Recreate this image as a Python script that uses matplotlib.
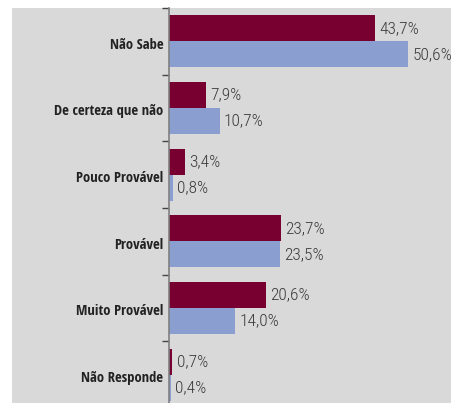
import matplotlib
matplotlib.use("Agg")
import matplotlib.pyplot as plt
from matplotlib.patches import Rectangle
import numpy as np

categories = ["Não Sabe", "De certeza que não", "Pouco Provável",
              "Provável", "Muito Provável", "Não Responde"]
serie_a = [43.7, 7.9, 3.4, 23.7, 20.6, 0.7]   # bordeaux
serie_b = [50.6, 10.7, 0.8, 23.5, 14.0, 0.4]  # azul

W, H = 451, 403
fig = plt.figure(figsize=(W / 100, H / 100), dpi=100)
fig.patch.set_facecolor("white")
cond_bold = ["Open Sans Condensed", "Roboto Condensed", "DejaVu Sans"]
cond_light = ["Roboto Condensed", "DejaVu Sans"]

# fundo cinzento atrás do gráfico
fig.patches.append(Rectangle((12 / W, 0), 1 - 12 / W, (H - 8) / H,
                             transform=fig.transFigure, facecolor="#d9d9d9",
                             edgecolor="none", zorder=-10))

ax = fig.add_axes([169 / W, -5 / H, 282 / W, 400 / H])
ax.set_facecolor("none")

y = np.arange(len(categories))
h = 0.39
ax.barh(y - h / 2, serie_a, height=h, color="#780030")
ax.barh(y + h / 2, serie_b, height=h, color="#8a9ed0")

for yi, a, b in zip(y, serie_a, serie_b):
    ax.text(a + 0.9, yi - h / 2, f"{a:.1f}%".replace(".", ","),
            va="center", ha="left", fontsize=12.5, fontweight="light",
            color="#3a3a3a", family=cond_light)
    ax.text(b + 0.9, yi + h / 2, f"{b:.1f}%".replace(".", ","),
            va="center", ha="left", fontsize=12.5, fontweight="light",
            color="#3a3a3a", family=cond_light)
    ax.text(-1.2, yi + 0.05, categories[yi], va="center", ha="right",
            fontsize=10.5, fontweight="bold", color="#222222",
            family=cond_bold)

ax.set_xlim(0, 59.7)
ax.set_ylim(len(categories) - 0.5, -0.5)
ax.set_xticks([])
ax.set_yticks(np.arange(len(categories) + 1) - 0.5)
ax.set_yticklabels([])
ax.tick_params(axis="y", length=5, width=1, color="#444444", direction="out")
for s in ["top", "right", "bottom"]:
    ax.spines[s].set_visible(False)
ax.spines["left"].set_color("#808080")
ax.spines["left"].set_linewidth(1.2)

fig.savefig("out.png", dpi=100)
